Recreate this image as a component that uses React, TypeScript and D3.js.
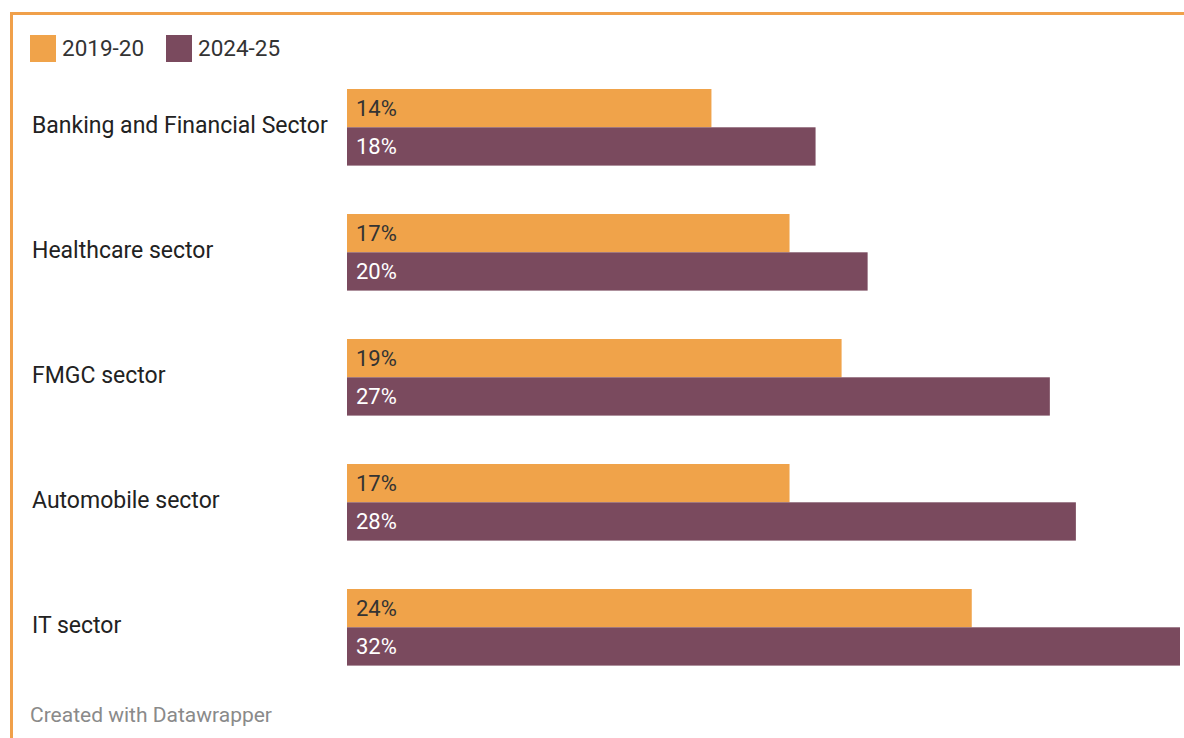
import React from "react";
import * as d3 from "d3";

const categories = [
  "Banking and Financial Sector",
  "Healthcare sector",
  "FMGC sector",
  "Automobile sector",
  "IT sector",
];
const values2019 = [14, 17, 19, 17, 24];
const values2024 = [18, 20, 27, 28, 32];
const seriesNames = ["2019-20", "2024-25"];
const seriesColors = ["#f0a34a", "#7a4a5e"];
const labelColors = ["#333333", "#ffffff"];

export default function App() {
  const W = 1184;
  const H = 738;
  const x = d3.scaleLinear().domain([0, 32]).range([347, 1180]);
  const barH = 38.3;
  const y = d3
    .scaleBand()
    .domain(categories)
    .range([89, 89 + 125 * (5 - (1 - (2 * barH) / 125))])
    .paddingInner(1 - (2 * barH) / 125)
    .paddingOuter(0);
  const series = [values2019, values2024];
  const font = "Roboto, 'Noto Sans', sans-serif";

  return (
    <svg width={W} height={H} style={{ position: "absolute", left: 0, top: 0, background: "#fff" }}>
      <rect x={0} y={0} width={W} height={H} fill="#fff" />
      <line x1={10} x2={W} y1={13.5} y2={13.5} stroke="#f0a04a" strokeWidth={3} />
      <line x1={11.5} x2={11.5} y1={12} y2={H} stroke="#f0a04a" strokeWidth={3} />
      {seriesNames.map((s, i) => {
        const lx = i === 0 ? 30 : 166;
        return (
          <g key={s}>
            <rect x={lx} y={35} width={26} height={27} fill={seriesColors[i]} />
            <text x={lx + 32} y={56} fontFamily={font} fontSize={22.5} fill="#333">
              {s}
            </text>
          </g>
        );
      })}
      {categories.map((c, ci) => {
        const top = y(c)!;
        return (
          <g key={c}>
            <text x={32} y={top + barH - 2} dy="0.35em" fontFamily={font} fontSize={23} fill="#222">
              {c}
            </text>
            {series.map((vals, si) => (
              <g key={si}>
                <rect
                  x={x(0)}
                  y={top + si * barH}
                  width={x(vals[ci]) - x(0)}
                  height={barH}
                  fill={seriesColors[si]}
                />
                <text
                  x={x(0) + 9}
                  y={top + si * barH + barH / 2}
                  dy="0.35em"
                  fontFamily={font}
                  fontSize={22}
                  fill={labelColors[si]}
                >
                  {vals[ci]}%
                </text>
              </g>
            ))}
          </g>
        );
      })}
      <text x={30} y={722} fontFamily={font} fontSize={21} fill="#8a8a8a">
        Created with Datawrapper
      </text>
    </svg>
  );
}
